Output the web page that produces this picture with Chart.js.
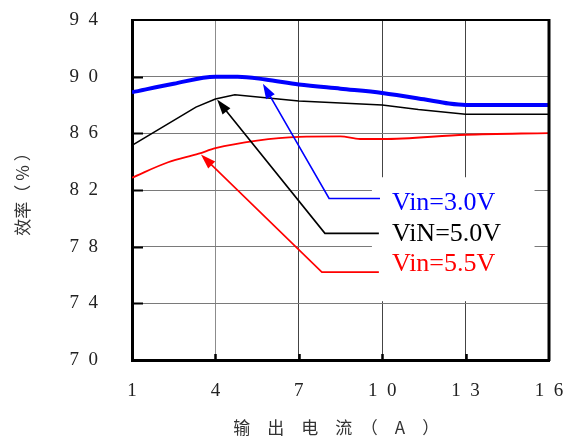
<!DOCTYPE html>
<html lang="zh">
<head>
<meta charset="UTF-8">
<title>效率 - 输出电流</title>
<script src="https://cdn.jsdelivr.net/npm/chart.js"></script>
<style>
  html, body { margin: 0; padding: 0; background: #fff; }
  .wrap { width: 564px; height: 440px; }
</style>
</head>
<body>
<div class="wrap"><canvas id="chart" width="564" height="440"></canvas></div>
<script>
// 刻度
const xTicks = [1, 4, 7, 10, 13, 16];
const xTickLabels = ['1', '4', '7', '1  0', '1  3', '1  6'];
const yTicks = [70, 74, 78, 82, 86, 90, 94];
const yTickLabels = ['7  0', '7  4', '7  8', '8  2', '8  6', '9  0', '9  4'];

// 各曲线数据：输出电流(A) / 效率(%)
const seriesNames = ['Vin=3.0V', 'ViN=5.0V', 'Vin=5.5V'];
const vin30X = [1, 2.5, 4, 4.8, 5.8, 7, 8.5, 10, 11.5, 12.4, 13, 16];
const vin30Y = [88.9, 89.5, 90.0, 90.0, 89.8, 89.45, 89.15, 88.85, 88.4, 88.1, 88.0, 88.0];
const vin50X = [1, 3.3, 4, 4.7, 7, 10, 11.3, 13, 16];
const vin50Y = [85.15, 87.85, 88.43, 88.72, 88.28, 88.0, 87.68, 87.35, 87.35];
const vin55X = [1, 2.3, 3.4, 4, 5.5, 7, 8.5, 9.2, 10, 13, 16];
const vin55Y = [82.87, 83.96, 84.56, 84.95, 85.49, 85.75, 85.78, 85.6, 85.6, 85.9, 86.02];

const colors = ['#0000ff', '#000000', '#ff0000'];

// 标注（数据坐标）：箭头尖、折点、终点
const calloutTip = [[5.71, 89.5], [4.06, 88.38], [3.48, 84.5]];
const calloutElbow = [[8.09, 81.4], [7.94, 78.94], [7.83, 76.2]];
const calloutEndX = [9.92, 9.88, 9.88];
const calloutTextX = 10.35;
const calloutTextY = [81.06, 78.87, 76.76];
const calloutBox = [9.63, 15.48, 82.9, 74.15]; // 图例白底

const toPoints = (xs, ys) => xs.map((x, i) => ({ x: x, y: ys[i] }));

const frame = {
  id: 'frame',
  beforeDatasetsDraw(chart) {
    const { ctx, chartArea: a, scales: { x, y } } = chart;
    ctx.save();
    // 图例区域遮住网格
    const bx0 = x.getPixelForValue(calloutBox[0]);
    const bx1 = x.getPixelForValue(calloutBox[1]);
    const by0 = y.getPixelForValue(calloutBox[2]);
    const by1 = y.getPixelForValue(calloutBox[3]);
    ctx.fillStyle = '#fff';
    ctx.fillRect(bx0, by0, bx1 - bx0, by1 - by0);

    // 内刻度
    ctx.strokeStyle = '#000';
    ctx.lineWidth = 2;
    ctx.beginPath();
    yTicks.slice(1, -1).forEach(v => {
      const py = Math.round(y.getPixelForValue(v)) + 0.5;
      ctx.moveTo(a.left, py);
      ctx.lineTo(a.left + 11, py);
    });
    ctx.stroke();
    ctx.lineWidth = 2.5;
    ctx.beginPath();
    xTicks.slice(1, -1).forEach(v => {
      const px = Math.round(x.getPixelForValue(v)) + 0.5;
      ctx.moveTo(px, a.bottom);
      ctx.lineTo(px, a.bottom - 6);
    });
    ctx.stroke();
    ctx.restore();
  },
  afterDatasetsDraw(chart) {
    const { ctx, chartArea: a, scales: { x, y } } = chart;
    ctx.save();
    // 上、右边框
    ctx.strokeStyle = '#000';
    ctx.lineWidth = 2;
    ctx.beginPath();
    ctx.moveTo(a.left, a.top);
    ctx.lineTo(a.right, a.top);
    ctx.stroke();
    ctx.lineWidth = 3;
    ctx.beginPath();
    ctx.moveTo(a.right, a.top - 1);
    ctx.lineTo(a.right, a.bottom + 1);
    ctx.stroke();

    // 箭头标注
    seriesNames.forEach((name, i) => {
      const tx = x.getPixelForValue(calloutTip[i][0]);
      const ty = y.getPixelForValue(calloutTip[i][1]);
      const ex = x.getPixelForValue(calloutElbow[i][0]);
      const ey = y.getPixelForValue(calloutElbow[i][1]);
      const fx = x.getPixelForValue(calloutEndX[i]);
      const ang = Math.atan2(ty - ey, tx - ex);
      const L = 15, W = 5;
      const c = Math.cos(ang), s = Math.sin(ang);
      ctx.strokeStyle = colors[i];
      ctx.fillStyle = colors[i];
      ctx.lineWidth = 1.6;
      ctx.beginPath();
      ctx.moveTo(tx - c * 8, ty - s * 8);
      ctx.lineTo(ex, ey);
      ctx.lineTo(fx, ey);
      ctx.stroke();
      ctx.beginPath();
      ctx.moveTo(tx, ty);
      ctx.lineTo(tx - L * c + W * s, ty - L * s - W * c);
      ctx.lineTo(tx - L * c - W * s, ty - L * s + W * c);
      ctx.closePath();
      ctx.fill();

      ctx.font = '26px "Liberation Serif"';
      ctx.textBaseline = 'middle';
      ctx.textAlign = 'left';
      ctx.fillText(name, x.getPixelForValue(calloutTextX), y.getPixelForValue(calloutTextY[i]));
    });
    ctx.restore();
  }
};

const tickFont = { family: '"Liberation Serif", serif', size: 19 };
const titleFont = { family: '"Noto Sans CJK SC", sans-serif', size: 17 };

new Chart(document.getElementById('chart'), {
  type: 'line',
  data: {
    datasets: [
      {
        label: seriesNames[0],
        data: toPoints(vin30X, vin30Y),
        borderColor: colors[0],
        borderWidth: 4,
        cubicInterpolationMode: 'monotone',
        pointRadius: 0
      },
      {
        label: seriesNames[1],
        data: toPoints(vin50X, vin50Y),
        borderColor: colors[1],
        borderWidth: 1.6,
        tension: 0,
        pointRadius: 0
      },
      {
        label: seriesNames[2],
        data: toPoints(vin55X, vin55Y),
        borderColor: colors[2],
        borderWidth: 1.8,
        cubicInterpolationMode: 'monotone',
        pointRadius: 0
      }
    ]
  },
  options: {
    responsive: false,
    animation: false,
    layout: { padding: { top: 20, right: 15, left: 0, bottom: 0 } },
    plugins: { legend: { display: false }, tooltip: { enabled: false } },
    scales: {
      x: {
        type: 'linear',
        min: 1,
        max: 16,
        afterBuildTicks: s => { s.ticks = xTicks.map(v => ({ value: v })); },
        afterFit: s => { s.height = 80; s.paddingLeft = 0; s.paddingRight = 0; },
        ticks: {
          padding: 20,
          color: '#222',
          font: tickFont,
          maxRotation: 0,
          autoSkip: false,
          callback: v => xTickLabels[xTicks.indexOf(v)]
        },
        grid: {
          drawTicks: false,
          color: c => {
            const v = c.tick && c.tick.value;
            if (v === 1 || v === 16) return 'rgba(0,0,0,0)';
            return v === 4 ? '#8c8c8c' : '#444';
          }
        },
        border: { color: '#000', width: 3 },
        title: {
          display: true,
          text: '输　出　电　流　（　A　）　',
          color: '#333',
          font: titleFont,
          padding: { top: 0, bottom: 2 }
        }
      },
      y: {
        type: 'linear',
        min: 70,
        max: 94,
        afterBuildTicks: s => { s.ticks = yTicks.map(v => ({ value: v })); },
        afterFit: s => { s.width = 132; s.paddingTop = 0; s.paddingBottom = 0; },
        ticks: {
          padding: 34,
          color: '#222',
          font: tickFont,
          callback: v => yTickLabels[yTicks.indexOf(v)]
        },
        grid: {
          drawTicks: false,
          color: c => {
            const v = c.tick && c.tick.value;
            return (v === 70 || v === 94) ? 'rgba(0,0,0,0)' : '#7a7a7a';
          }
        },
        border: { color: '#000', width: 3 },
        title: {
          display: true,
          text: '效率（ % ）',
          color: '#333',
          font: titleFont,
          padding: { top: 12, bottom: 0 }
        }
      }
    }
  },
  plugins: [frame]
});
</script>
</body>
</html>
